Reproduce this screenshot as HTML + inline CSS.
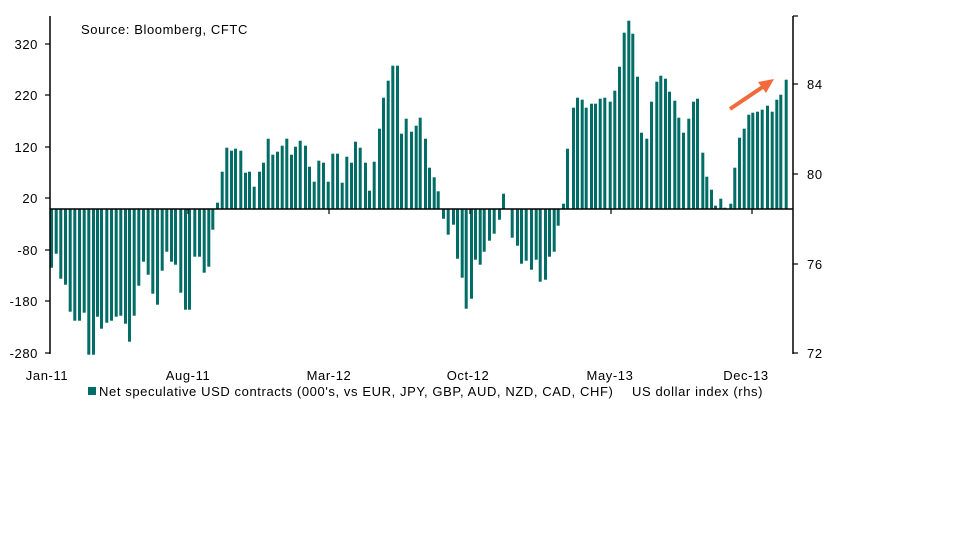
<!DOCTYPE html>
<html><head><meta charset="utf-8"><style>
body{margin:0;background:#fff;width:974px;height:535px;overflow:hidden}
svg text{font-family:"Liberation Sans",sans-serif;font-size:13px;fill:#000;letter-spacing:0.6px}
</style></head><body>
<svg width="974" height="535" xmlns="http://www.w3.org/2000/svg">
<g id="bars" fill="#006d66"></g>
<line x1="50" y1="209" x2="793" y2="209" stroke="#000" stroke-width="1.5"/>
<line x1="50" y1="16" x2="50" y2="354" stroke="#000" stroke-width="1.5"/>
<line x1="793" y1="16" x2="793" y2="354" stroke="#000" stroke-width="1.5"/>
<g stroke="#000" stroke-width="1.2">
<line x1="45" y1="44" x2="50" y2="44"/><line x1="45" y1="95" x2="50" y2="95"/><line x1="45" y1="147" x2="50" y2="147"/><line x1="45" y1="198" x2="50" y2="198"/><line x1="45" y1="250" x2="50" y2="250"/><line x1="45" y1="301" x2="50" y2="301"/><line x1="45" y1="353" x2="50" y2="353"/>
<line x1="793" y1="16" x2="798" y2="16"/><line x1="793" y1="84" x2="798" y2="84"/><line x1="793" y1="174" x2="798" y2="174"/><line x1="793" y1="264" x2="798" y2="264"/><line x1="793" y1="353" x2="798" y2="353"/>
<line x1="188" y1="209" x2="188" y2="214"/><line x1="329" y1="209" x2="329" y2="214"/><line x1="470" y1="209" x2="470" y2="214"/><line x1="611" y1="209" x2="611" y2="214"/><line x1="752" y1="209" x2="752" y2="214"/>
</g>
<g text-anchor="end">
<text x="38" y="49">320</text><text x="38" y="100">220</text><text x="38" y="152">120</text><text x="38" y="203">20</text><text x="38" y="255">-80</text><text x="38" y="306">-180</text><text x="38" y="358">-280</text>
</g>
<g>
<text x="807" y="89">84</text><text x="807" y="179">80</text><text x="807" y="269">76</text><text x="807" y="358">72</text>
</g>
<g text-anchor="middle">
<text x="47" y="380">Jan-11</text><text x="188" y="380">Aug-11</text><text x="329" y="380">Mar-12</text><text x="468" y="380">Oct-12</text><text x="610" y="380">May-13</text><text x="746" y="380">Dec-13</text>
</g>
<text x="81" y="34">Source: Bloomberg, CFTC</text>
<rect x="88" y="387" width="8" height="8" fill="#006d66"/>
<text x="99" y="396">Net speculative USD contracts (000's, vs EUR, JPY, GBP, AUD, NZD, CAD, CHF)</text>
<text x="632" y="396">US dollar index (rhs)</text>
<line x1="730" y1="109" x2="764" y2="86" stroke="#f26a3a" stroke-width="4"/>
<polygon points="774,79 758,82 766,93" fill="#f26a3a"/>
</svg>
<script>
var d=[50,267.7,54.7,253.7,59.3,278.7,64,284.7,68.7,311.7,73.3,320.7,78,320.7,82.7,312.7,87.3,354.7,92,354.7,96,316.7,100,328.7,105.3,322.7,110,320.7,114.7,316.7,119.3,315.7,124,323.7,128,341.7,132.7,315.7,137.3,285.7,142,261.7,146.7,274.7,151.3,293.7,156,304.7,160.7,270.7,165.3,251.7,170,261.7,174,264.7,179.3,292.7,184,309.7,188,309.7,193.3,256.7,198,256.7,202.7,272.7,207.3,266.7,211.3,229.7,216,202.7,220.7,171.7,225.3,147.7,230,150.7,234,148.7,239.3,150.7,
244,172.7,248,171.7,252.7,186.7,258,171.7,262,162.7,266.7,138.7,271.3,154.7,276,151.7,280.7,145.7,285.3,138.7,290,154.7,294,146.7,298.7,140.7,304,145.7,308,166.7,312.7,181.7,317.3,160.7,322,162.7,326.7,181.7,331.3,153.7,336,153.7,340.7,182.7,345.3,156.7,350,162.7,354,141.7,358.7,147.7,364,162.7,368,190.7,372.7,161.7,378,128.7,382,97.7,386.7,80.7,391.3,65.7,396,65.7,400,133.7,404.7,118.7,410,131.7,414.7,125.7,418.7,117.7,424,138.7,428,167.7,
432.7,177.3,436.7,191.3,442,218.7,446.7,234.7,452,224.7,456,258.7,460.7,277.7,464.7,308.7,470,298.7,474,259.7,478.7,264.7,482.7,251.7,488,240.7,492.7,233.7,498,219.7,502,193.7,510.7,237.7,516,245.7,520,263.7,524.7,260.7,530,269.7,534.7,259.7,538.7,281.7,544,279.7,548,256.7,552.7,251.7,556.7,225.7,562,203.7,566,148.7,572,107.7,576,97.7,580.7,99.7,584.7,107.7,590,103.7,594,103.7,
598.7,98.7,603.3,97.7,608.7,101.7,613.3,90.7,618,66.7,622.7,32.7,627.3,20.7,631.3,33.7,636,76.7,640,132.7,645.3,138.7,650,101.7,655.3,81.7,659.3,75.7,664,78.7,668,91.7,673.3,100.7,677.3,117.7,682,132.7,687.3,118.7,692,101.7,696,98.7,701.3,152.7,705.3,176.7,710,189.7,714,205.7,719.3,198.7,723.3,207.7,729.3,203.7,733.3,167.7,738,137.7,742.7,128.7,747.3,114.7,751.3,112.7,756,111.7,760.7,109.7,766,105.7,770.7,111.7,775.3,99.7,779.3,94.7,784.7,79.7];
var g=document.getElementById('bars'),s='';
for(var i=0;i<d.length;i+=2){var x=d[i],y=d[i+1],t=Math.min(y,209),h=Math.abs(y-209);
s+='<rect x="'+x+'" y="'+t+'" width="3" height="'+h+'"/>';}
g.innerHTML=s;
</script>
</body></html>
